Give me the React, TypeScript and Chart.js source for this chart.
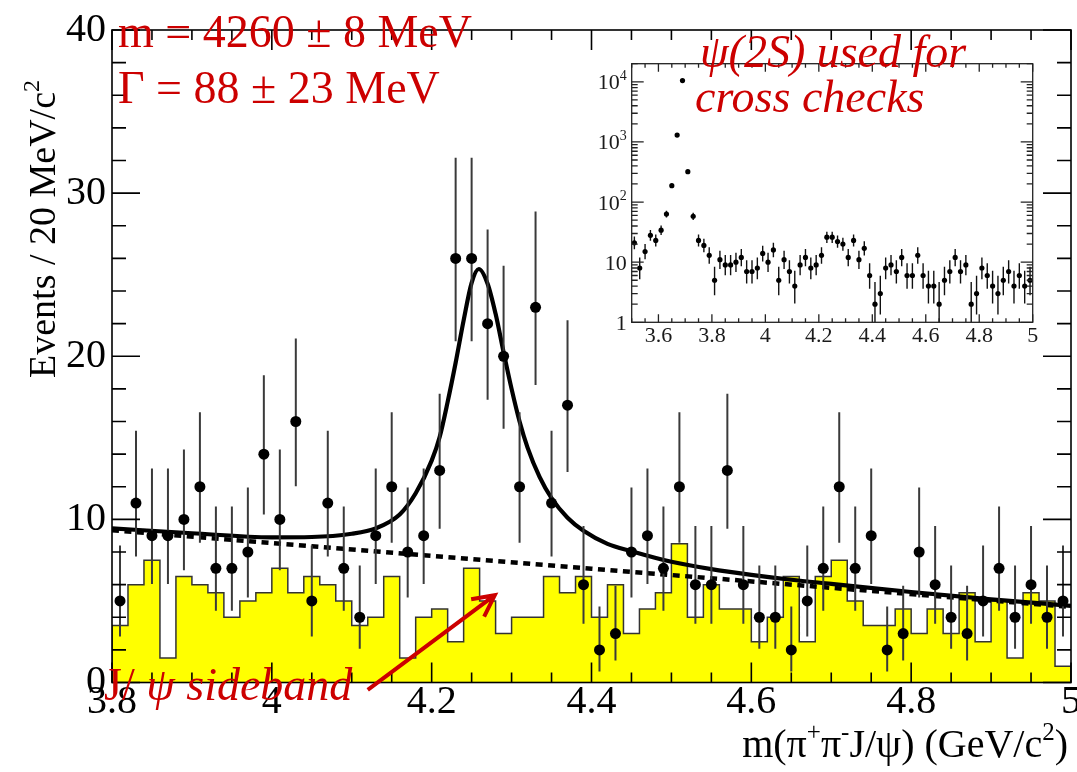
import React, { useEffect, useRef } from 'react';
import { Chart, registerables } from 'chart.js';

Chart.register(...registerables);

// ---------------- data ----------------
// bin centres, 20 MeV bins (GeV/c^2)
const MASS = [
  3.81, 3.83, 3.85, 3.87, 3.89, 3.91, 3.93, 3.95, 3.97, 3.99,
  4.01, 4.03, 4.05, 4.07, 4.09, 4.11, 4.13, 4.15, 4.17, 4.19,
  4.21, 4.23, 4.25, 4.27, 4.29, 4.31, 4.33, 4.35, 4.37, 4.39,
  4.41, 4.43, 4.45, 4.47, 4.49, 4.51, 4.53, 4.55, 4.57, 4.59,
  4.61, 4.63, 4.65, 4.67, 4.69, 4.71, 4.73, 4.75, 4.77, 4.79,
  4.81, 4.83, 4.85, 4.87, 4.89, 4.91, 4.93, 4.95, 4.97, 4.99,
];
const EVENTS = [
  5, 11, 9, 9, 10, 12, 7, 7, 8, 14,
  10, 16, 5, 11, 7, 4, 9, 12, 8, 9,
  13, 26, 26, 22, 20, 12, 23, 11, 17, 6,
  2, 3, 8, 9, 7, 12, 6, 6, 13, 6,
  4, 4, 2, 5, 7, 12, 7, 9, 2, 3,
  8, 6, 4, 3, 5, 7, 4, 6, 4, 5,
];
const SIDEBAND = [
  3.5, 6, 7.5, 1.5, 6.5, 6, 5.5, 4, 5, 5.5,
  7, 5.5, 6.5, 6, 5, 3.5, 4, 6.5, 1.5, 4,
  4.5, 2.5, 7, 5, 3, 4, 4, 6.5, 5.5, 6.5,
  4, 6, 3, 4.5, 5.5, 8.5, 4, 6, 4.5, 4.5,
  2.5, 4, 6.5, 2.5, 6.5, 7.5, 5, 3.5, 3.5, 4.5,
  3, 4.5, 3, 5.5, 2.5, 5, 1.5, 5.5, 5, 1,
];
const BIN_WIDTH = 0.02;

// fit curve (signal + background)
const FIT_MASS = [
  3.8, 3.9, 4.0, 4.05, 4.1, 4.13, 4.16, 4.18, 4.2, 4.21, 4.22, 4.23, 4.24, 4.25, 4.259,
  4.27, 4.28, 4.29, 4.3, 4.31, 4.32, 4.335, 4.35, 4.37, 4.39, 4.42, 4.45, 4.5, 4.55,
  4.6, 4.65, 4.7, 4.8, 4.9, 5.0,
];
const FIT_TOTAL = [
  9.45, 9.15, 8.9, 8.92, 9.12, 9.45, 10.3, 11.6, 13.6, 15.05, 17.2, 19.6, 22.2, 24.5, 25.35,
  24.45, 22.6, 20.25, 18.0, 16.0, 14.4, 12.6, 11.3, 10.1, 9.3, 8.5, 8.05, 7.4, 6.95,
  6.6, 6.3, 6.05, 5.55, 5.1, 4.7,
];
// background component (dashed)
const BKG_MASS = [3.8, 4.4, 5.0];
const BKG = [9.33, 6.98, 4.63];

const X_TICKS = [3.8, 4.0, 4.2, 4.4, 4.6, 4.8, 5.0];
const X_TICK_LABELS = ['3.8', '4', '4.2', '4.4', '4.6', '4.8', '5'];
const Y_TICKS = [0, 10, 20, 30, 40];
const Y_TICK_LABELS = ['0', '10', '20', '30', '40'];

// inset: psi(2S) region, same binning, extended down to 3.5
const INSET_MASS_LOW = [3.51, 3.53, 3.55, 3.57, 3.59, 3.61, 3.63, 3.65, 3.67, 3.69, 3.71, 3.73, 3.75, 3.77, 3.79];
const INSET_EVENTS_LOW = [21, 8, 15, 28, 23, 34, 63, 187, 1300, 10500, 320, 58, 23, 19, 13];
const INSET_X_TICKS = [3.6, 3.8, 4.0, 4.2, 4.4, 4.6, 4.8, 5.0];
const INSET_X_TICK_LABELS = ['3.6', '3.8', '4', '4.2', '4.4', '4.6', '4.8', '5'];
const INSET_Y_TICKS = [1, 10, 100, 1000, 10000];
const INSET_Y_TICK_LABELS = [['1', ''], ['10', ''], ['10', '2'], ['10', '3'], ['10', '4']];

// ---------------- styling helpers ----------------
const FONT = 'Liberation Serif';
const RED = '#cc0000';

type Part = { t: string; sup?: boolean; italic?: boolean };

function drawRich(ctx: any, parts: Part[], x: number, y: number, size: number, color: string, align = 'left') {
  const fontFor = (p: Part) => `${p.italic ? 'italic ' : ''}${p.sup ? Math.round(size * 0.62) : size}px "${FONT}"`;
  let total = 0;
  for (const p of parts) {
    ctx.font = fontFor(p);
    total += ctx.measureText(p.t).width;
  }
  let cx = align === 'right' ? x - total : align === 'center' ? x - total / 2 : x;
  ctx.fillStyle = color;
  ctx.textAlign = 'left';
  ctx.textBaseline = 'alphabetic';
  for (const p of parts) {
    ctx.font = fontFor(p);
    ctx.fillText(p.t, cx, p.sup ? y - size * 0.42 : y);
    cx += ctx.measureText(p.t).width;
  }
}

function poissonErr(n: number) {
  return { lo: Math.sqrt(Math.max(n - 0.25, 0)), hi: Math.sqrt(n + 0.75) + 1 };
}

const errorBarPlugin = {
  id: 'errorBars',
  beforeDatasetDraw(chart: any, args: any) {
    const ds = chart.data.datasets[args.index];
    if (!ds.counts) return;
    const { ctx, chartArea: a, scales } = chart;
    const xs = scales.x;
    const ys = scales.y;
    ctx.save();
    ctx.beginPath();
    ctx.rect(a.left, a.top, a.right - a.left, a.bottom - a.top);
    ctx.clip();
    ctx.strokeStyle = ds.errColor;
    ctx.lineWidth = ds.errWidth;
    ctx.beginPath();
    ds.data.forEach((p: any, i: number) => {
      const n = ds.counts[i];
      const e = poissonErr(n);
      const px = xs.getPixelForValue(p.x);
      const top = ys.getPixelForValue(n + e.hi);
      const low = Math.max(n - e.lo, ds.errFloor);
      const bot = ys.getPixelForValue(low);
      ctx.moveTo(px, top);
      ctx.lineTo(px, bot);
    });
    ctx.stroke();
    ctx.restore();
  },
};

function drawFrame(chart: any, o: any) {
  const { ctx, chartArea: a, scales } = chart;
  const xs = scales.x;
  const ys = scales.y;
  ctx.save();
  ctx.strokeStyle = o.color;
  ctx.lineWidth = o.lw;
  ctx.beginPath();
  for (const t of o.xTicks) {
    const px = xs.getPixelForValue(t.v);
    const L = t.major ? o.xMajor : o.xMinor;
    ctx.moveTo(px, a.bottom);
    ctx.lineTo(px, a.bottom - L);
    ctx.moveTo(px, a.top);
    ctx.lineTo(px, a.top + L);
  }
  for (const t of o.yTicks) {
    const py = ys.getPixelForValue(t.v);
    const L = t.major ? o.yMajor : o.yMinor;
    ctx.moveTo(a.left, py);
    ctx.lineTo(a.left + L, py);
    ctx.moveTo(a.right, py);
    ctx.lineTo(a.right - L, py);
  }
  ctx.stroke();
  ctx.strokeRect(a.left, a.top, a.right - a.left, a.bottom - a.top);
  ctx.restore();
}

function linearTicks(min: number, max: number, minor: number, majors: number[]) {
  const out: any[] = [];
  const n = Math.round((max - min) / minor);
  for (let i = 0; i <= n; i++) {
    const v = +(min + i * minor).toFixed(4);
    out.push({ v, major: majors.some((m) => Math.abs(m - v) < 1e-6) });
  }
  return out;
}

// ---------------- main chart ----------------
function mainConfig(): any {
  const edges = MASS.map((m) => +(m - BIN_WIDTH / 2).toFixed(3));
  const lastEdge = +(MASS[MASS.length - 1] + BIN_WIDTH / 2).toFixed(3);
  const histData = [
    { x: edges[0], y: 0 },
    ...SIDEBAND.map((v, i) => ({ x: edges[i], y: v })),
    { x: lastEdge, y: SIDEBAND[SIDEBAND.length - 1] },
    { x: lastEdge, y: 0 },
  ];

  const xTicks = linearTicks(3.8, 5.0, 0.05, X_TICKS);
  const yTicks = linearTicks(0, 40, 2, Y_TICKS);

  const framePlugin = {
    id: 'mainFrame',
    afterDatasetsDraw(chart: any) {
      drawFrame(chart, { color: '#000', lw: 1.6, xTicks, yTicks, xMajor: 20, xMinor: 10, yMajor: 28, yMinor: 14 });
    },
    afterDraw(chart: any) {
      const { ctx, scales } = chart;
      const xs = scales.x;
      const ys = scales.y;
      ctx.save();
      // fit result
      drawRich(ctx, [{ t: 'm = 4260 ± 8 MeV' }], 118, 47, 46, RED);
      drawRich(ctx, [{ t: 'Γ = 88 ± 23 MeV' }], 118, 103, 46, RED);
      // sideband label + arrow
      drawRich(ctx, [{ t: 'J/' }, { t: ' ψ sideband', italic: true }], 104, 700, 46, RED);
      const x1 = xs.getPixelForValue(4.12);
      const y1 = ys.getPixelForValue(-0.45);
      const x2 = xs.getPixelForValue(4.279);
      const y2 = ys.getPixelForValue(5.35);
      const ang = Math.atan2(y2 - y1, x2 - x1);
      const L = 24;
      const sp = 0.47;
      ctx.strokeStyle = RED;
      ctx.lineWidth = 4;
      ctx.lineCap = 'butt';
      ctx.beginPath();
      ctx.moveTo(x1, y1);
      ctx.lineTo(x2, y2);
      ctx.moveTo(x2 - L * Math.cos(ang - sp), y2 - L * Math.sin(ang - sp));
      ctx.lineTo(x2, y2);
      ctx.lineTo(x2 - L * Math.cos(ang + sp), y2 - L * Math.sin(ang + sp));
      ctx.stroke();
      // axis titles
      drawRich(
        ctx,
        [{ t: 'm(π' }, { t: '+', sup: true }, { t: 'π' }, { t: '-', sup: true }, { t: 'J/ψ) (GeV/c' }, { t: '2', sup: true }, { t: ')' }],
        1068, 757, 40, '#000', 'right'
      );
      ctx.translate(55, 378);
      ctx.rotate(-Math.PI / 2);
      drawRich(ctx, [{ t: 'Events / 20 MeV/c' }, { t: '2', sup: true }], 0, 0, 38, '#000');
      ctx.restore();
    },
  };

  return {
    type: 'line',
    data: {
      datasets: [
        {
          label: 'J/psi sideband',
          data: histData,
          stepped: 'before',
          fill: 'origin',
          backgroundColor: '#ffff00',
          borderColor: '#333333',
          borderWidth: 1.5,
          pointRadius: 0,
          order: 4,
        },
        {
          label: 'background',
          data: BKG_MASS.map((m, i) => ({ x: m, y: BKG[i] })),
          borderColor: '#000',
          borderWidth: 4.5,
          borderDash: [7, 5.5],
          pointRadius: 0,
          fill: false,
          order: 3,
        },
        {
          label: 'fit',
          data: FIT_MASS.map((m, i) => ({ x: m, y: FIT_TOTAL[i] })),
          borderColor: '#000',
          borderWidth: 4.2,
          pointRadius: 0,
          fill: false,
          cubicInterpolationMode: 'monotone',
          order: 2,
        },
        {
          label: 'data',
          data: MASS.map((m, i) => ({ x: m, y: EVENTS[i] })),
          showLine: false,
          pointRadius: 5.5,
          pointBackgroundColor: '#000',
          pointBorderColor: '#000',
          pointBorderWidth: 0,
          order: 1,
          counts: EVENTS,
          errColor: '#3a3a3a',
          errWidth: 2,
          errFloor: -100,
        },
      ],
    },
    options: {
      responsive: false,
      animation: false,
      devicePixelRatio: 1,
      events: [],
      layout: { padding: { left: 0, top: 30, right: 6, bottom: 0 } },
      plugins: { legend: { display: false }, tooltip: { enabled: false }, title: { display: false } },
      scales: {
        x: {
          type: 'linear',
          min: 3.8,
          max: 5.0,
          grid: { display: false, drawTicks: false },
          border: { display: false },
          afterBuildTicks: (s: any) => {
            s.ticks = X_TICKS.map((v) => ({ value: v }));
          },
          afterFit: (s: any) => {
            s.height = 89.5;
            s.paddingLeft = 0;
            s.paddingRight = 0;
          },
          ticks: {
            autoSkip: false,
            maxRotation: 0,
            padding: 0,
            color: '#000',
            font: { family: FONT, size: 40, lineHeight: 1 },
            callback: (_v: any, i: number) => X_TICK_LABELS[i],
          },
        },
        y: {
          type: 'linear',
          min: 0,
          max: 40,
          grid: { display: false, drawTicks: false },
          border: { display: false },
          afterBuildTicks: (s: any) => {
            s.ticks = Y_TICKS.map((v) => ({ value: v }));
          },
          afterFit: (s: any) => {
            s.width = 112;
            s.paddingTop = 0;
            s.paddingBottom = 0;
          },
          ticks: {
            padding: 6,
            color: '#000',
            font: { family: FONT, size: 40, lineHeight: 1 },
            callback: (_v: any, i: number) => Y_TICK_LABELS[i],
          },
        },
      },
    },
    plugins: [errorBarPlugin, framePlugin],
  };
}

// ---------------- inset chart ----------------
const INSET_LEFT = 570;
const INSET_TOP = 20;

function insetConfig(): any {
  const mass = INSET_MASS_LOW.concat(MASS);
  const counts = INSET_EVENTS_LOW.concat(EVENTS);
  const xTicks = linearTicks(3.5, 5.0, 0.05, INSET_X_TICKS);
  const yTicks: any[] = [];
  for (const d of [1, 10, 100, 1000, 10000]) {
    for (let k = 1; k <= 9; k++) {
      const v = d * k;
      if (v <= 20000) yTicks.push({ v, major: k === 1 });
    }
  }
  const insetPlugin = {
    id: 'insetDeco',
    beforeDraw(chart: any) {
      const { ctx, chartArea: a } = chart;
      ctx.save();
      ctx.fillStyle = '#fff';
      ctx.fillRect(a.left, a.top, a.right - a.left, a.bottom - a.top);
      ctx.restore();
    },
    afterDatasetsDraw(chart: any) {
      drawFrame(chart, { color: '#222', lw: 1.3, xTicks, yTicks, xMajor: 8, xMinor: 4, yMajor: 12, yMinor: 6 });
    },
    afterDraw(chart: any) {
      const { ctx, chartArea: a, scales } = chart;
      ctx.save();
      INSET_Y_TICKS.forEach((v, i) => {
        const py = scales.y.getPixelForValue(v);
        const [base, exp] = INSET_Y_TICK_LABELS[i];
        const parts: Part[] = [{ t: base }];
        if (exp) parts.push({ t: exp, sup: true });
        drawRich(ctx, parts, a.left - 5, py + 7.5, 22, '#1a1a1a', 'right');
      });
      drawRich(ctx, [{ t: 'ψ(2S) used for', italic: true }], 700 - INSET_LEFT, 67 - INSET_TOP, 46, RED);
      drawRich(ctx, [{ t: 'cross checks', italic: true }], 695 - INSET_LEFT, 112 - INSET_TOP, 46, RED);
      ctx.restore();
    },
  };
  return {
    type: 'line',
    data: {
      datasets: [
        {
          label: 'psi(2S) data',
          data: mass.map((m, i) => ({ x: m, y: counts[i] })),
          showLine: false,
          pointRadius: 2.6,
          pointBackgroundColor: '#000',
          pointBorderWidth: 0,
          counts,
          errColor: '#111',
          errWidth: 1.4,
          errFloor: 0.5,
        },
      ],
    },
    options: {
      responsive: false,
      animation: false,
      devicePixelRatio: 1,
      events: [],
      layout: { padding: { left: 0, top: 63.7 - INSET_TOP, right: 480 - (1032.7 - INSET_LEFT), bottom: 0 } },
      plugins: { legend: { display: false }, tooltip: { enabled: false }, title: { display: false } },
      scales: {
        x: {
          type: 'linear',
          min: 3.5,
          max: 5.0,
          grid: { display: false, drawTicks: false },
          border: { display: false },
          afterBuildTicks: (s: any) => {
            s.ticks = INSET_X_TICKS.map((v) => ({ value: v }));
          },
          afterFit: (s: any) => {
            s.height = 345 - (322.3 - INSET_TOP);
            s.paddingLeft = 0;
            s.paddingRight = 0;
          },
          ticks: {
            autoSkip: false,
            maxRotation: 0,
            padding: 3,
            color: '#1a1a1a',
            font: { family: FONT, size: 22, lineHeight: 1 },
            callback: (_v: any, i: number) => INSET_X_TICK_LABELS[i],
          },
        },
        y: {
          type: 'logarithmic',
          min: 1,
          max: 20000,
          grid: { display: false, drawTicks: false },
          border: { display: false },
          ticks: { display: false },
          afterFit: (s: any) => {
            s.width = 631.7 - INSET_LEFT;
            s.paddingTop = 0;
            s.paddingBottom = 0;
          },
        },
      },
    },
    plugins: [errorBarPlugin, insetPlugin],
  };
}

export default function App() {
  const mainRef = useRef<HTMLCanvasElement>(null);
  const insetRef = useRef<HTMLCanvasElement>(null);
  useEffect(() => {
    const main = new Chart(mainRef.current as HTMLCanvasElement, mainConfig());
    const inset = new Chart(insetRef.current as HTMLCanvasElement, insetConfig());
    return () => {
      main.destroy();
      inset.destroy();
    };
  }, []);
  return (
    <div style={{ position: 'fixed', left: 0, top: 0, width: 1077, height: 772, background: '#fff', overflow: 'hidden' }}>
      <canvas ref={mainRef} width={1077} height={772} style={{ position: 'absolute', left: 0, top: 0, width: 1077, height: 772 }} />
      <canvas
        ref={insetRef}
        width={480}
        height={345}
        style={{ position: 'absolute', left: INSET_LEFT, top: INSET_TOP, width: 480, height: 345 }}
      />
    </div>
  );
}
